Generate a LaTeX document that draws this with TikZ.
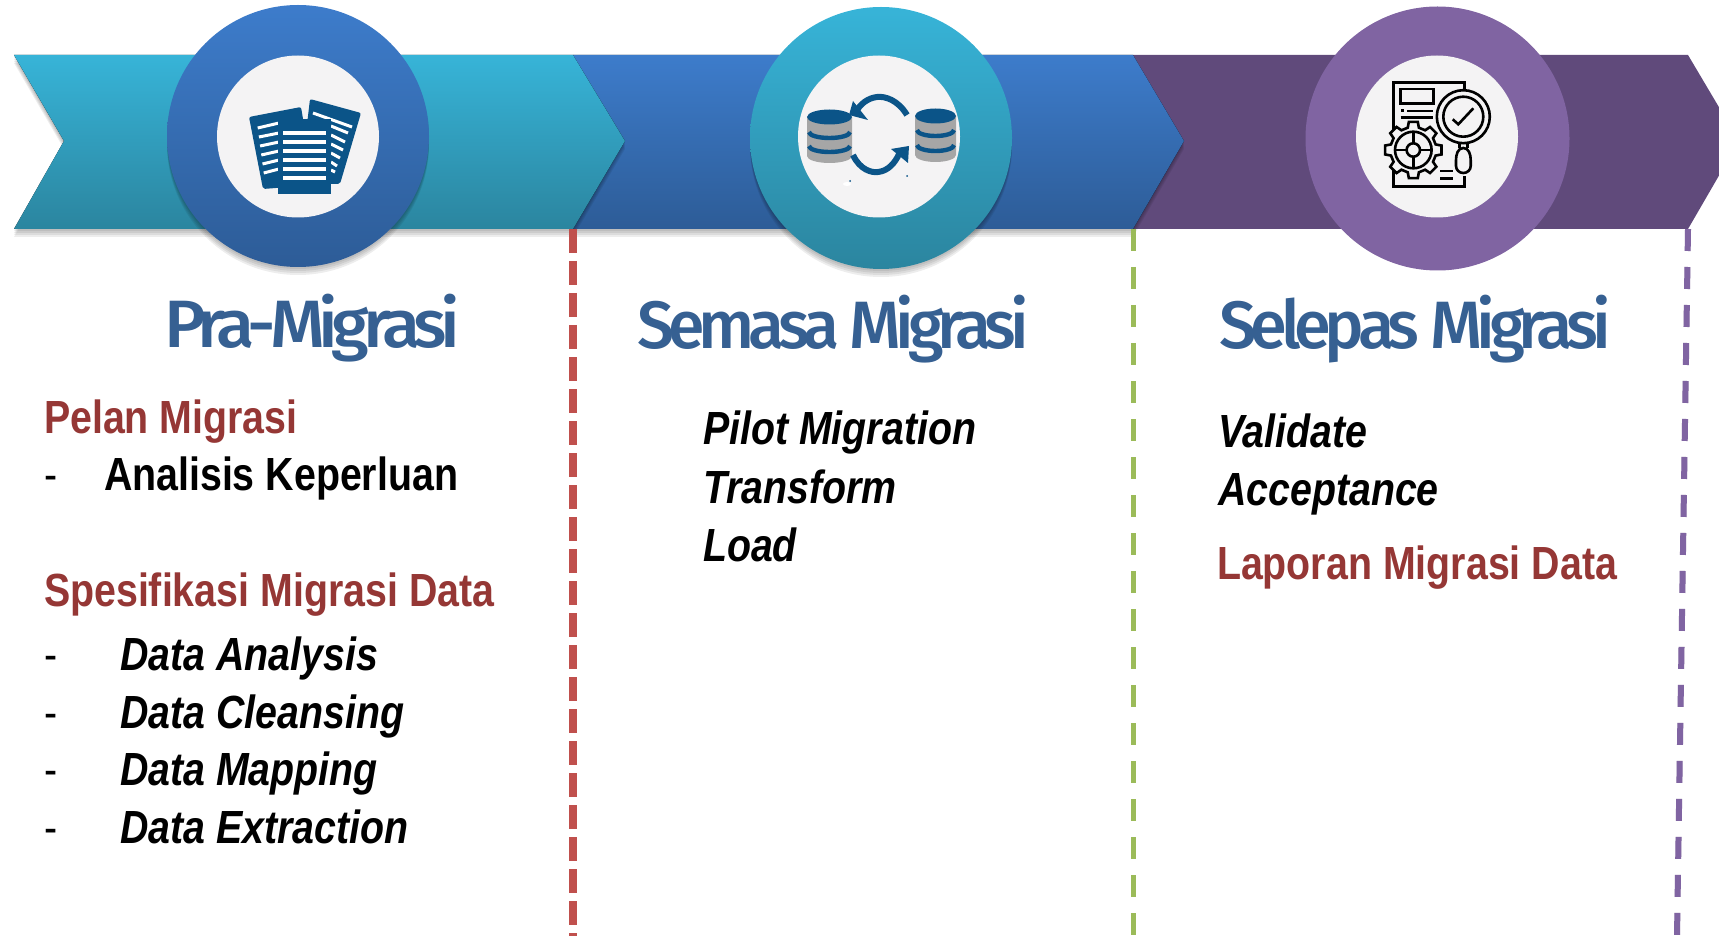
\documentclass[tikz,border=0pt]{standalone}
\usepackage{fontspec}
\usepackage{graphicx}
\newfontfamily\bodyfont[FakeStretch=0.846]{Liberation Sans}
\newfontfamily\headfont[LetterSpace=-9,UprightFont=* Medium]{Fira Sans}
\definecolor{tealtop}{HTML}{37B4D8}
\definecolor{tealbot}{HTML}{2B859F}
\definecolor{bluetop}{HTML}{3D7CCB}
\definecolor{bluebot}{HTML}{2D5C97}
\definecolor{plum}{HTML}{604A7B}
\definecolor{violet}{HTML}{8064A2}
\definecolor{disc}{HTML}{F4F3F4}
\definecolor{headblue}{HTML}{366092}
\definecolor{maroon}{HTML}{953735}
\definecolor{dashred}{HTML}{C0504D}
\definecolor{dashgreen}{HTML}{9BBB59}
\definecolor{iconblue}{HTML}{0B5488}
\definecolor{dbgrey}{HTML}{A6A6A6}
\newcommand{\headfit}[2]{\resizebox*{#1}{34pt}{\headfont #2}}
\tikzset{
  x=0.5pt,y=-0.5pt,
  ring/.style={circle,minimum size=#1,inner sep=0pt,outer sep=0pt},
  tealgrad/.style={top color=tealtop,bottom color=tealbot},
  bluegrad/.style={top color=bluetop,bottom color=bluebot},
  hd/.style={anchor=base west,inner sep=0pt,outer sep=0pt,text=headblue},
  red head/.style={anchor=base west,inner sep=0pt,outer sep=0pt,text=maroon,font=\bodyfont\bfseries\fontsize{23.25pt}{28pt}\selectfont},
  plainitem/.style={anchor=base west,inner sep=0pt,outer sep=0pt,text=black,font=\bodyfont\bfseries\fontsize{23.25pt}{28pt}\selectfont},
  dashitem/.style={anchor=base west,inner sep=0pt,outer sep=0pt,text=black,font=\bodyfont\fontsize{23.25pt}{28pt}\selectfont},
  italitem/.style={anchor=base west,inner sep=0pt,outer sep=0pt,text=black,font=\bodyfont\bfseries\itshape\fontsize{23.25pt}{28pt}\selectfont},
  softshade/.style={fill=black,opacity=0.07,draw=none},
  whiteline/.style={draw=white,line width=1.8pt},
  inkline/.style={draw=black,line width=1.3pt,line join=miter},
}
\begin{document}
\begin{tikzpicture}
\useasboundingbox (0,0) rectangle (1719,936);
% chevron 3
\begin{scope}
\clip (0,0) rectangle (1719,936);
\fill[plum] (1133,55) -- (1688,55) -- (1739,141) -- (1688,229) -- (1133,229) -- cycle;
\end{scope}
% chevron 2
\foreach \o in {1,2,3,4}{\fill[softshade,yshift=-\o*1pt] (573,55) -- (1133,55) -- (1184,141) -- (1133,229) -- (573,229) -- cycle;}
\fill[bluegrad] (573,55) -- (1133,55) -- (1184,141) -- (1133,229) -- (573,229) -- cycle;
% chevron 1
\foreach \o in {1,2,3,4}{\fill[softshade,yshift=-\o*1pt] (14,55) -- (573,55) -- (625,141) -- (573,229) -- (14,229) -- (64,141) -- cycle;}
\fill[tealgrad] (14,55) -- (573,55) -- (625,141) -- (573,229) -- (14,229) -- (64,141) -- cycle;
% dashed dividers
\coordinate (redtop) at (573,229);
\coordinate (redend) at (573,936);
\coordinate (greentop) at (1133,229);
\coordinate (greenend) at (1133,936);
\coordinate (purpletop) at (1688,229);
\coordinate (purpleend) at (1677,936);
\draw[dashred,line width=4.2pt,dash pattern=on 12pt off 4pt] (redtop) -- (redend);
\draw[black,opacity=.12,line width=2.5pt,dash pattern=on 11pt off 8pt,yshift=-1.5pt] (greentop) -- (greenend);
\draw[dashgreen,line width=2.5pt,dash pattern=on 11pt off 8pt] (greentop) -- (greenend);
\draw[black,opacity=.12,line width=3pt,dash pattern=on 11pt off 8pt,yshift=-1.5pt] (purpletop) -- (purpleend);
\draw[violet,line width=3pt,dash pattern=on 11pt off 8pt] (purpletop) -- (purpleend);
% rings
\foreach \o in {1,2,3,4}{\fill[softshade,yshift=-\o*1pt] (298,136) circle[radius=131];}
\node[ring=131pt,bluegrad] (ringa) at (298,136) {};
\foreach \o in {1,2,3,4}{\fill[softshade,yshift=-\o*1pt] (881,138) circle[radius=131];}
\node[ring=131pt,tealgrad] (ringb) at (881,138) {};
\node[ring=132pt,fill=violet] (ringc) at (1437.5,138.5) {};
\node[ring=81pt,fill=disc] (disca) at (298,136.5) {};
\node[ring=81pt,fill=disc] (discb) at (879,136.5) {};
\node[ring=81pt,fill=disc] (discc) at (1437,136.5) {};
% icon 1: documents
\fill[iconblue,rounded corners=1pt] (249,117) -- (301,107) -- (314,185) -- (263,189) -- cycle;
\fill[iconblue,rounded corners=1pt] (310,99) -- (361,113) -- (340,184) -- (300,184) -- cycle;
\foreach \ya/\yb [count=\i] in {128/123,137/133,146/142,155/151,164/160,173/169}{
  \draw[whiteline,line width=1.5pt] (256.5+\i*1.2,\ya) -- (279,\yb);}
\draw[whiteline,line width=1.5pt] (313,113) -- (352,127);
\foreach \xa/\ya/\xb/\yb in {331/126/348/133,331/135/345/142,331/144/343/150,331/153/340/158,331/162/337/166,331/170/335/172}{
  \draw[whiteline,line width=1.5pt] (\xa,\ya) -- (\xb,\yb);}
\fill[iconblue] (278,119) rectangle (331,194);
\foreach \y in {133,142,151,160,169,178}{\draw[whiteline] (283,\y) -- (326,\y);}
% icon 2: databases
\foreach \xa/\xb/\yt/\yb/\ba/\bb in {807/852/117/163/135/149,915/956/116/162/133/148}{
  \pgfmathsetmacro{\rx}{(\xb-\xa)/2}
  \pgfmathsetmacro{\rin}{(\xb-\xa)/2-2}
  \pgfmathsetmacro{\cx}{(\xb+\xa)/2}
  \fill[dbgrey] (\xa,\yt) -- (\xb,\yt) -- (\xb,\yb-7) arc[start angle=0,end angle=180,x radius=\rx,y radius=7] -- cycle;
  \draw[iconblue,line width=2.2pt] (\xa+2,\ba-3) arc[start angle=180,end angle=0,x radius=\rin,y radius=6];
  \draw[iconblue,line width=2.2pt] (\xa+2,\bb-3) arc[start angle=180,end angle=0,x radius=\rin,y radius=6];
  \fill[iconblue] (\cx,\yt) ellipse[x radius=\rx,y radius=7.5];
}
\draw[iconblue,line width=3pt] (907,115) .. controls (898,100) and (885,96) .. (877,97) .. controls (868,98) and (860,104) .. (856,112);
\fill[iconblue] (849,115) -- (853,101) -- (868,120) -- cycle;
\draw[iconblue,line width=3pt] (853,155) .. controls (860,170) and (872,173) .. (878,172) .. controls (888,171) and (895,163) .. (899,154);
\fill[iconblue] (909,146) -- (891,149) -- (908,163) -- cycle;
\fill[white] (847,184) ellipse[x radius=4,y radius=2];
\fill[iconblue] (850,181) circle[radius=1];
\fill[iconblue] (907,176) circle[radius=1];
% icon 3: report, magnifier, gear
\draw[inkline] (1464.3,90) -- (1464.3,82.3) -- (1393.3,82.3) -- (1393.3,186.7) -- (1464.3,186.7) -- (1464.3,176);
\draw[inkline] (1400.7,89) rectangle (1433.3,103.3);
\fill[black] (1400.7,109.5) rectangle (1403.5,112.5);
\draw[inkline] (1407,111) -- (1433,111);
\draw[inkline] (1400.7,117.7) -- (1433,117.7);
\draw[inkline] (1440,171) -- (1452.7,171);
\draw[inkline] (1440,178.3) -- (1452.7,178.3);
\draw[inkline,fill=disc] (1463.3,116.7) circle[radius=26.5];
\draw[inkline] (1463.3,116.7) circle[radius=20];
\draw[inkline] (1452.7,119.3) -- (1458.3,124.3) -- (1473.3,108.3);
\draw[inkline] (1459.3,143.5) -- (1459.3,148) (1467.3,143.5) -- (1467.3,148);
\draw[inkline] (1456,160) to[out=90,in=180] (1463.3,148) to[out=0,in=90] (1470.7,160) -- (1470.7,166) to[out=-90,in=0] (1463.3,173) to[out=180,in=-90] (1456,166) -- cycle;
\begin{scope}[shift={(1413.3,150)}]
\draw[inkline,fill=disc] (-9:28.5) \foreach \a in {0,45,...,315}{ -- (\a-9:28.5) -- (\a+9:28.5) -- (\a+14:23) -- (\a+31:23)} -- cycle;
\draw[inkline] (0,0) circle[radius=18.3];
\draw[inkline] (0,0) circle[radius=6.7];
\draw[inkline] (6.7,0) -- (18.3,0) (-6.7,0) -- (-18.3,0) (0,6.7) -- (0,18.3) (0,-6.7) -- (0,-18.3);
\end{scope}
% headings
\node[hd] (heada) at (164,348) {\headfit{148pt}{Pra-Migrasi}};
\node[hd] (headb) at (637,349) {\headfit{196pt}{Semasa Migrasi}};
\node[hd] (headc) at (1219,349) {\headfit{196pt}{Selepas Migrasi}};
% column 1
\node[red head] (pelan) at (44,433) {Pelan Migrasi};
\node[dashitem] (dasha) at (44,490) {-};
\node[plainitem] (analisis) at (104,490) {Analisis Keperluan};
\node[red head] (spes) at (44,606) {Spesifikasi Migrasi Data};
\node[dashitem] (dashb) at (44,670) {-};
\node[italitem] (d1) at (120,670) {Data Analysis};
\node[dashitem] (dashc) at (44,728) {-};
\node[italitem] (d2) at (120,728) {Data Cleansing};
\node[dashitem] (dashd) at (44,785) {-};
\node[italitem] (d3) at (120,785) {Data Mapping};
\node[dashitem] (dashe) at (44,843) {-};
\node[italitem] (d4) at (120,843) {Data Extraction};
% column 2
\node[italitem] (pilot) at (703,444) {Pilot Migration};
\node[italitem] (transform) at (703,503) {Transform};
\node[italitem] (load) at (703,561) {Load};
% column 3
\node[italitem] (validate) at (1218,447) {Validate};
\node[italitem] (accept) at (1218,505) {Acceptance};
\node[red head] (laporan) at (1217,579) {Laporan Migrasi Data};
\end{tikzpicture}
\end{document}
